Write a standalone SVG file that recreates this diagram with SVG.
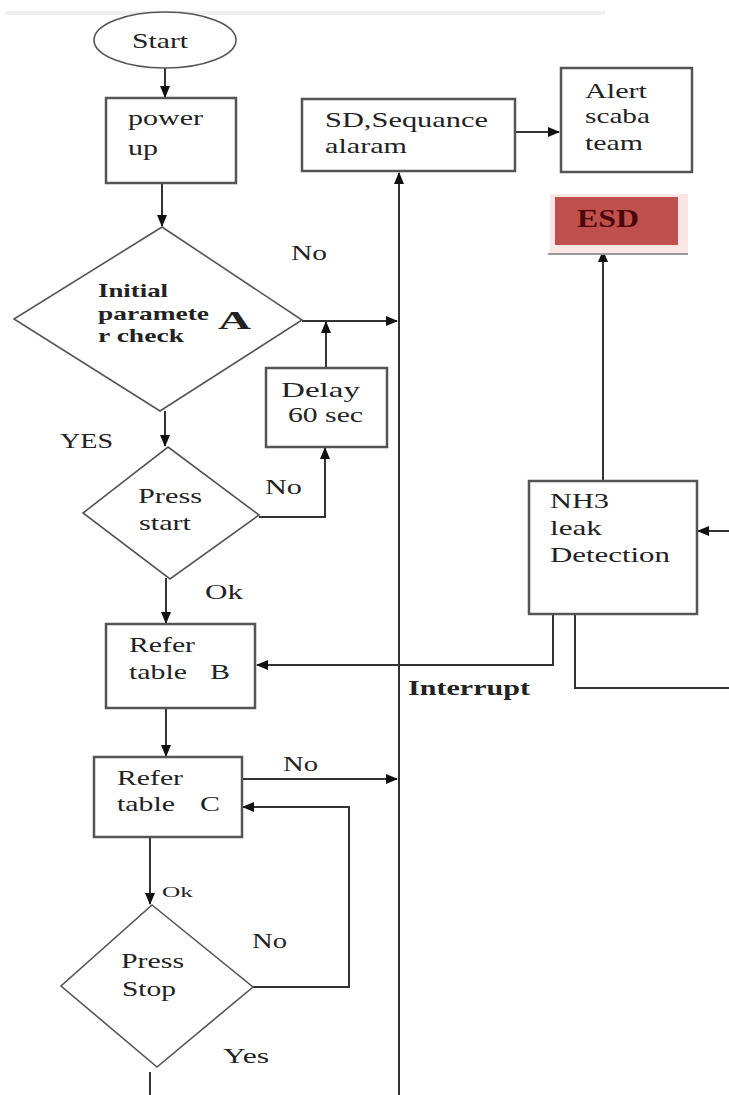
<svg xmlns="http://www.w3.org/2000/svg" width="729" height="1095" viewBox="0 0 729 1095">
<style>
.box{fill:#fff;stroke:#555;stroke-width:2.5}
.dia{fill:#fff;stroke:#555;stroke-width:1.6}
.ln{fill:none;stroke:#333;stroke-width:2}
.t{font-family:"Liberation Serif",serif;font-size:22px;fill:#222}
.b{font-family:"Liberation Serif",serif;font-weight:bold;fill:#222}
</style>
<defs>
<marker id="ah" markerUnits="userSpaceOnUse" markerWidth="12" markerHeight="10" refX="11" refY="5" orient="auto">
<path d="M0,0 L12,5 L0,10 z" fill="#111"/>
</marker>
</defs>
<rect x="5" y="11" width="600" height="4" fill="#f0f0f0"/>
<g id="connectors">
<line class="ln" x1="165" y1="68" x2="165" y2="97" marker-end="url(#ah)"/>
<line class="ln" x1="162" y1="183" x2="162" y2="226" marker-end="url(#ah)"/>
<line class="ln" x1="165" y1="411" x2="165" y2="446" marker-end="url(#ah)"/>
<line class="ln" x1="302" y1="321" x2="397" y2="321" marker-end="url(#ah)"/>
<line class="ln" x1="326" y1="368" x2="326" y2="322" marker-end="url(#ah)"/>
<polyline class="ln" points="259,517 325,517 325,448" marker-end="url(#ah)"/>
<line class="ln" x1="166" y1="578" x2="166" y2="623" marker-end="url(#ah)"/>
<polyline class="ln" points="553,615 553,665 257,665" marker-end="url(#ah)"/>
<line class="ln" x1="399" y1="1095" x2="399" y2="173" marker-end="url(#ah)"/>
<line class="ln" x1="515" y1="132" x2="559" y2="132" marker-end="url(#ah)"/>
<line class="ln" x1="603" y1="481" x2="603" y2="251" marker-end="url(#ah)"/>
<line class="ln" x1="729" y1="531" x2="698" y2="531" marker-end="url(#ah)"/>
<polyline class="ln" points="575,614 575,688 729,688"/>
<line class="ln" x1="166" y1="708" x2="166" y2="756" marker-end="url(#ah)"/>
<line class="ln" x1="242" y1="779" x2="397" y2="779" marker-end="url(#ah)"/>
<polyline class="ln" points="253,987 349,987 349,807 243,807" marker-end="url(#ah)"/>
<line class="ln" x1="150" y1="837" x2="150" y2="904" marker-end="url(#ah)"/>
<line class="ln" x1="150" y1="1072" x2="150" y2="1095"/>
</g>
<g id="start">
<ellipse cx="165" cy="40" rx="71" ry="28" class="dia"/>
<text class="t" x="132" y="48" textLength="56" lengthAdjust="spacingAndGlyphs">Start</text>
</g>
<g id="powerup">
<rect class="box" x="106" y="98" width="130" height="85"/>
<text class="t" x="128" y="125" textLength="75" lengthAdjust="spacingAndGlyphs">power</text>
<text class="t" x="128" y="155" textLength="30" lengthAdjust="spacingAndGlyphs">up</text>
</g>
<g id="sd">
<rect class="box" x="302" y="99" width="213" height="72"/>
<text class="t" x="325" y="127" textLength="163" lengthAdjust="spacingAndGlyphs">SD,Sequance</text>
<text class="t" x="325" y="153" textLength="82" lengthAdjust="spacingAndGlyphs">alaram</text>
</g>
<g id="alert">
<rect class="box" x="561" y="68" width="131" height="104"/>
<text class="t" x="585" y="98" textLength="62" lengthAdjust="spacingAndGlyphs">Alert</text>
<text class="t" x="585" y="123" textLength="65" lengthAdjust="spacingAndGlyphs">scaba</text>
<text class="t" x="585" y="150" textLength="58" lengthAdjust="spacingAndGlyphs">team</text>
</g>
<g id="esd">
<rect x="550" y="194" width="138" height="60" fill="#fbe6e6"/>
<line x1="548" y1="254" x2="688" y2="254" stroke="#999" stroke-width="2"/>
<rect x="555" y="197" width="123" height="48" fill="#c0504d"/>
<text class="b" x="577" y="227" font-size="25" fill="#4a0808" style="fill:#4a0808" textLength="62" lengthAdjust="spacingAndGlyphs">ESD</text>
</g>
<g id="checkA">
<polygon class="dia" points="162,227 302,320 160,411 14,319"/>
<text class="b" x="98" y="297" font-size="19" textLength="70" lengthAdjust="spacingAndGlyphs">Initial</text>
<text class="b" x="98" y="320" font-size="19" textLength="111" lengthAdjust="spacingAndGlyphs">paramete</text>
<text class="b" x="98" y="342" font-size="19" textLength="86" lengthAdjust="spacingAndGlyphs">r check</text>
<text class="b" x="218" y="329" font-size="26" textLength="33" lengthAdjust="spacingAndGlyphs">A</text>
</g>
<g id="delay">
<rect class="box" x="266" y="368" width="121" height="79"/>
<text class="t" x="281" y="397" textLength="79" lengthAdjust="spacingAndGlyphs">Delay</text>
<text class="t" x="288" y="422" textLength="75" lengthAdjust="spacingAndGlyphs">60 sec</text>
</g>
<g id="pressstart">
<polygon class="dia" points="168,447 259,515 170,579 83,513"/>
<text class="t" x="138" y="503" textLength="64" lengthAdjust="spacingAndGlyphs">Press</text>
<text class="t" x="139" y="530" textLength="52" lengthAdjust="spacingAndGlyphs">start</text>
</g>
<g id="tableB">
<rect class="box" x="106" y="624" width="149" height="84"/>
<text class="t" x="129" y="652" textLength="66" lengthAdjust="spacingAndGlyphs">Refer</text>
<text class="t" x="129" y="679" textLength="58" lengthAdjust="spacingAndGlyphs">table</text>
<text class="t" x="210" y="679" textLength="20" lengthAdjust="spacingAndGlyphs">B</text>
</g>
<g id="nh3">
<rect class="box" x="529" y="481" width="168" height="133"/>
<text class="t" x="550" y="508" textLength="59" lengthAdjust="spacingAndGlyphs">NH3</text>
<text class="t" x="550" y="535" textLength="52" lengthAdjust="spacingAndGlyphs">leak</text>
<text class="t" x="550" y="562" textLength="120" lengthAdjust="spacingAndGlyphs">Detection</text>
</g>
<g id="tableC">
<rect class="box" x="94" y="757" width="148" height="80"/>
<text class="t" x="117" y="785" textLength="66" lengthAdjust="spacingAndGlyphs">Refer</text>
<text class="t" x="117" y="811" textLength="58" lengthAdjust="spacingAndGlyphs">table</text>
<text class="t" x="200" y="811" textLength="20" lengthAdjust="spacingAndGlyphs">C</text>
</g>
<g id="pressstop">
<polygon class="dia" points="152,905 253,987 157,1067 61,986"/>
<text class="t" x="121" y="968" textLength="63" lengthAdjust="spacingAndGlyphs">Press</text>
<text class="t" x="122" y="996" textLength="54" lengthAdjust="spacingAndGlyphs">Stop</text>
</g>
<g id="labels">
<text class="t" x="291" y="260" textLength="36" lengthAdjust="spacingAndGlyphs">No</text>
<text class="t" x="60" y="448" textLength="53" lengthAdjust="spacingAndGlyphs">YES</text>
<text class="t" x="265" y="494" textLength="37" lengthAdjust="spacingAndGlyphs">No</text>
<text class="t" x="205" y="599" textLength="38" lengthAdjust="spacingAndGlyphs">Ok</text>
<text class="b" x="408" y="695" font-size="21" textLength="122" lengthAdjust="spacingAndGlyphs">Interrupt</text>
<text class="t" x="283" y="771" textLength="35" lengthAdjust="spacingAndGlyphs">No</text>
<text class="t" x="162" y="897" font-size="15" style="font-size:15px" textLength="31" lengthAdjust="spacingAndGlyphs">Ok</text>
<text class="t" x="252" y="948" textLength="35" lengthAdjust="spacingAndGlyphs">No</text>
<text class="t" x="223" y="1063" textLength="46" lengthAdjust="spacingAndGlyphs">Yes</text>
</g>
</svg>
